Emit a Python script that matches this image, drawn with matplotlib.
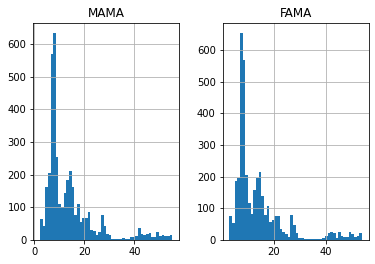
import numpy as np
import matplotlib
matplotlib.use('Agg')
import matplotlib.pyplot as plt

# bin counts (50 bins each)
mama_range = (2.3, 55.2)
mama_counts = [64, 43, 162, 205, 570, 634, 255, 110, 100, 143,
               184, 211, 162, 78, 110, 56, 67, 67, 85, 31,
               28, 15, 23, 77, 43, 19, 16, 4, 4, 4,
               2, 7, 4, 4, 8, 10, 13, 37, 19, 15,
               18, 20, 10, 10, 25, 13, 16, 13, 13, 16]

fama_range = (2.9, 53.8)
fama_counts = [76, 55, 185, 196, 654, 568, 205, 118, 82, 158,
               196, 215, 140, 80, 107, 58, 63, 76, 76, 35,
               25, 20, 9, 79, 47, 22, 6, 6, 3, 3,
               3, 3, 3, 3, 3, 6, 13, 22, 25, 22,
               6, 25, 13, 8, 10, 25, 20, 10, 13, 22]

columns = {'MAMA': (mama_range, mama_counts),
           'FAMA': (fama_range, fama_counts)}

W, H = 375, 264
fig = plt.figure(figsize=(W / 72, H / 72), dpi=72)

# axes boxes in pixels: left, bottom, width, height
boxes = [(33.3, 24, 145.7, 217.3), (222.7, 24, 146, 217.3)]

for (name, (rng, counts)), (l, b, w, h) in zip(columns.items(), boxes):
    ax = fig.add_axes([l / W, b / H, w / W, h / H])
    edges = np.linspace(rng[0], rng[1], len(counts) + 1)
    ax.hist(edges[:-1], bins=edges, weights=counts, color='C0')
    ax.grid(True)
    ax.set_title(name, fontsize=12)
    ax.tick_params(labelsize=10)

fig.savefig('out.png', dpi=72)
